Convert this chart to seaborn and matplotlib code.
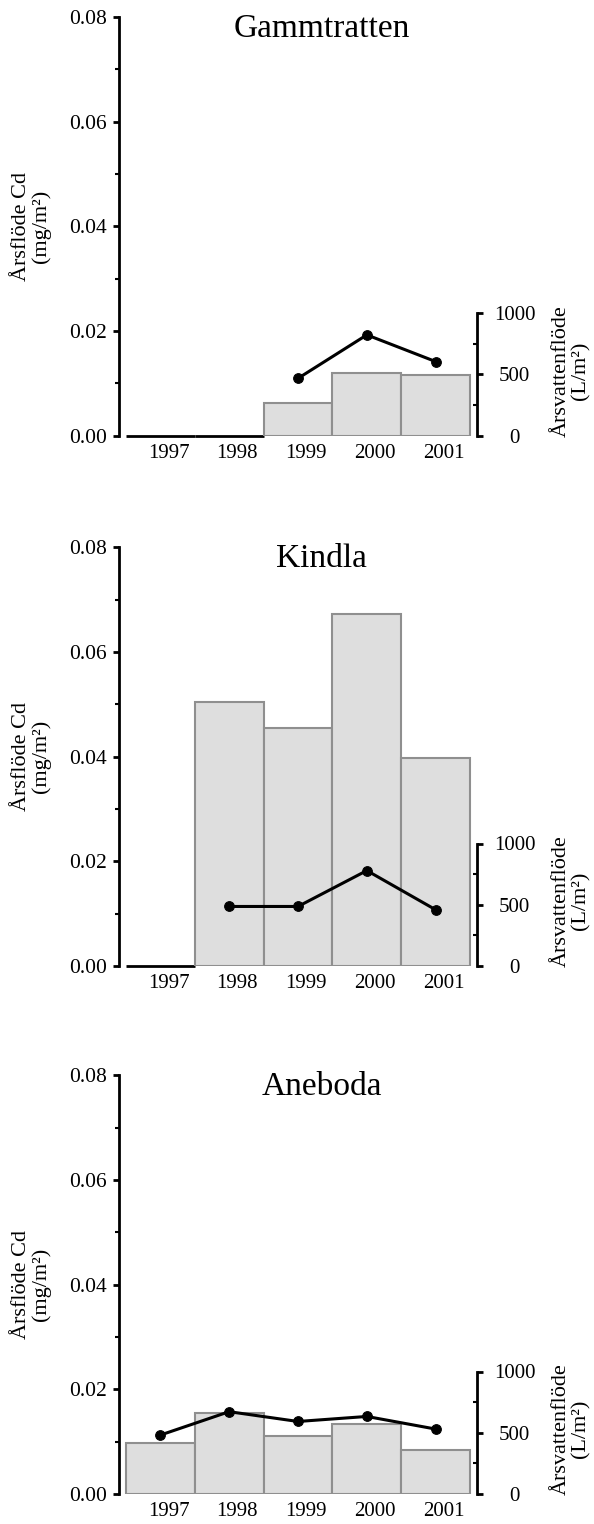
import numpy as np
import matplotlib
matplotlib.use("Agg")
import matplotlib.pyplot as plt
import seaborn as sns
from matplotlib.ticker import FixedLocator, FormatStrFormatter

# ---------------- data ----------------
years = ["1997", "1998", "1999", "2000", "2001"]
sites = ["Gammtratten", "Kindla", "Aneboda"]

gammtratten_cd = [0.0, 0.0, 0.0063, 0.0120, 0.0115]
gammtratten_water = [np.nan, np.nan, 468, 823, 605]

kindla_cd = [0.0, 0.0504, 0.0454, 0.0673, 0.0398]
kindla_water = [np.nan, 486, 486, 779, 459]

aneboda_cd = [0.0098, 0.0155, 0.0110, 0.0133, 0.0084]
aneboda_water = [481, 672, 592, 633, 530]

cd_ticks = [0.0, 0.02, 0.04, 0.06, 0.08]
cd_minor = [0.01, 0.03, 0.05, 0.07]
water_ticks = [0, 500, 1000]
water_minor = [250, 750]

left_label = "Årsflöde Cd\n(mg/m²)"
right_label = "Årsvattenflöde\n(L/m²)"

# ---------------- style ----------------
sns.set_theme(style="ticks", rc={
    "axes.edgecolor": "black", "text.color": "black",
    "xtick.color": "black", "ytick.color": "black",
    "axes.labelcolor": "black",
})
plt.rcParams['font.family'] = ['Liberation Serif', 'DejaVu Serif']

W, H = 594, 1524
fig = plt.figure(figsize=(W / 100, H / 100), dpi=100)

ax_left_px = 119
ax_width_px = 358
ax_height_px = 418.8
zero_px = [435.7, 966.0, 1494.0]

panel_data = [
    (sites[0], gammtratten_cd, gammtratten_water),
    (sites[1], kindla_cd, kindla_water),
    (sites[2], aneboda_cd, aneboda_water),
]

pos = np.arange(len(years))

for (site, cd, water), zp in zip(panel_data, zero_px):
    ax = fig.add_axes([ax_left_px / W, (H - zp) / H,
                       ax_width_px / W, ax_height_px / H])
    sns.barplot(x=years, y=cd, ax=ax, width=1.0, color="#dedede",
                saturation=1, edgecolor="#8f8f8f", linewidth=1.5)
    for p in ax.patches:
        if p.get_height() == 0:
            p.set_edgecolor("black")
            p.set_linewidth(2.0)
            p.set_clip_on(False)

    ax.set_xlim(-0.6, 4.6)
    ax.set_ylim(0, 0.08)
    ax.set_yticks(cd_ticks)
    ax.yaxis.set_major_formatter(FormatStrFormatter('%.2f'))
    ax.yaxis.set_minor_locator(FixedLocator(cd_minor))
    ax.set_xticks(pos + 0.12, years)
    ax.set_xlabel("")
    ax.set_ylabel("")
    for s in ["top", "right", "bottom"]:
        ax.spines[s].set_visible(False)
    ax.spines["left"].set_linewidth(2.0)
    ax.tick_params(axis="y", which="major", left=True, direction="out",
                   length=4.5, width=2.0, pad=4, labelsize=15.5)
    ax.tick_params(axis="y", which="minor", left=True, direction="out",
                   length=3, width=1.5)
    ax.tick_params(axis="x", which="both", bottom=True, length=0, pad=6,
                   labelsize=15)

    ax.text(0.566, 0.972, site, transform=ax.transAxes, ha="center",
            va="center", fontsize=24)
    ax.text(-0.244, 0.5, left_label, transform=ax.transAxes, rotation=90,
            ha="center", va="center", multialignment="center",
            fontsize=16, linespacing=1.05)

    ax2 = ax.twinx()
    sns.lineplot(x=pos, y=water, ax=ax2, color="black", linewidth=2.2,
                 marker="o", markersize=7, markeredgecolor="black")
    ax2.set_ylim(0, ax_height_px / 122.5 * 1000)
    ax2.set_xlim(-0.6, 4.6)
    ax2.set_yticks(water_ticks)
    ax2.yaxis.set_minor_locator(FixedLocator(water_minor))
    ax2.set_ylabel("")
    ax2.set_xlabel("")
    for s in ["top", "left", "bottom"]:
        ax2.spines[s].set_visible(False)
    ax2.spines["right"].set_linewidth(2.0)
    ax2.spines["right"].set_bounds(0, 1000)
    ax2.tick_params(axis="y", which="major", right=True, direction="out",
                    length=4, width=2.0, pad=23, labelsize=15)
    ax2.tick_params(axis="y", which="minor", right=True, direction="in",
                    length=3, width=1.5)
    for t in ax2.yaxis.get_major_ticks():
        t.label2.set_horizontalalignment("center")
    ax2.text(1.2626, 0.1545, right_label, transform=ax.transAxes,
             rotation=90, ha="center", va="center", multialignment="center",
             fontsize=16, linespacing=1.0)

fig.savefig("out.png", dpi=100)
